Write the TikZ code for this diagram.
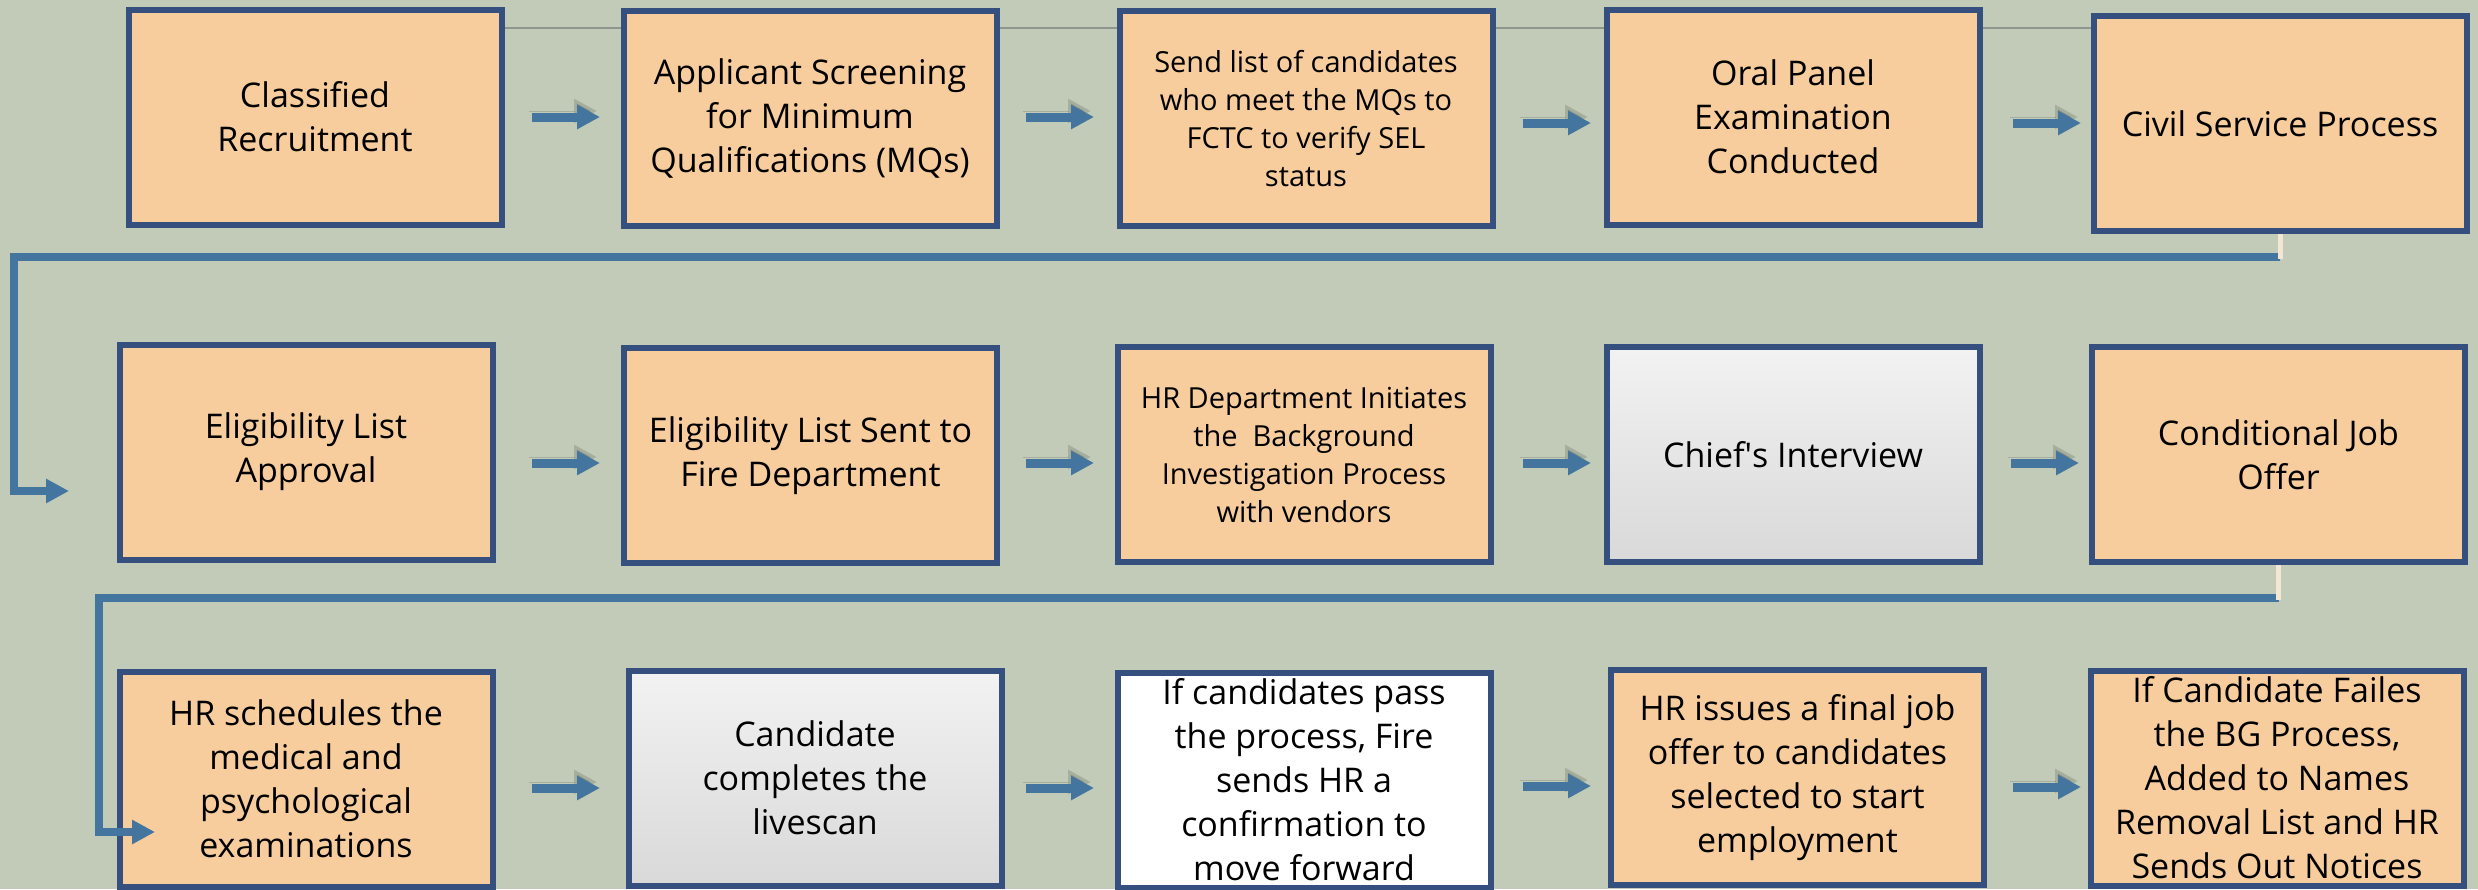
\documentclass[tikz,border=0pt]{standalone}
\usepackage{fontspec}
\setmainfont{Open Sans}
\usetikzlibrary{arrows.meta,backgrounds}
\definecolor{bgc}{HTML}{C2CBB7}
\definecolor{peach}{HTML}{F7CD9E}
\definecolor{boxborder}{HTML}{35507F}
\definecolor{lineblue}{HTML}{44759E}
\definecolor{stubc}{HTML}{F3E6D2}
\definecolor{thingray}{HTML}{8E968E}
\tikzset{
  box/.style={draw=boxborder, line width=3pt, fill=peach, minimum width=186.5pt,
    minimum height=107.5pt, inner xsep=2pt, inner ysep=0pt, align=center,
    font=\fontsize{17}{22}\selectfont, text=black},
  smalltext/.style={font=\fontsize{14.5}{19}\selectfont},
  graybox/.style={box, top color=white!95!black, bottom color=white!85!black},
  whitebox/.style={box, fill=white},
  flowarrow/.style={draw=lineblue, line width=4.5pt,
    -{Triangle[length=11.5pt,width=11.5pt]},
    preaction={draw=black, opacity=0.14, transform canvas={xshift=-1.5pt,yshift=3pt}}},
  conn/.style={draw=lineblue, line width=4pt, line join=miter},
  connarrow/.style={conn, -{Triangle[length=11.5pt,width=11.5pt]}},
  stub/.style={draw=stubc, line width=2.5pt},
  thinline/.style={draw=thingray, line width=0.8pt}
}
\begin{document}
\begin{tikzpicture}[x=0.5pt,y=-0.5pt]
\useasboundingbox (0,0) rectangle (2478,889);
\clip (0,0) rectangle (2478,889);
\begin{scope}[on background layer]
  \fill[bgc] (0,0) rectangle (2478,889);
\end{scope}

% row 1
\node[box] (b1) at (315,117) {Classified\\Recruitment};
\node[box] (b2) at (810,118.5) {Applicant Screening\\for Minimum\\Qualifications (MQs)};
\node[box,smalltext] (b3) at (1306,118.5) {Send list of candidates\\who meet the MQs to\\FCTC to verify SEL\\status};
\node[box] (b4) at (1793,117) {Oral Panel\\Examination\\Conducted};
\node[box] (b5) at (2280,123.5) {Civil Service Process};
% row 2
\node[box] (b6) at (306,452) {Eligibility List\\Approval};
\node[box] (b7) at (810.5,455.5) {Eligibility List Sent to\\Fire Department};
\node[box,smalltext] (b8) at (1304,454.5) {HR Department Initiates\\the\ \ Background\\Investigation Process\\with vendors};
\node[graybox] (b9) at (1793,454.5) {Chief\textquotesingle s Interview};
\node[box] (b10) at (2278.5,454.5) {Conditional Job\\Offer};
% row 3
\node[box] (b11) at (306,779) {HR schedules the\\medical and\\psychological\\examinations};
\node[graybox] (b12) at (815,778) {Candidate\\completes the\\livescan};
\node[whitebox] (b13) at (1304,780) {If candidates pass\\the process, Fire\\sends HR a\\confirmation to\\move forward};
\node[box] (b14) at (1797.5,777.5) {HR issues a final job\\offer to candidates\\selected to start\\employment};
\node[box] (b15) at (2277,778) {If Candidate Failes\\the BG Process,\\Added to Names\\Removal List and HR\\Sends Out Notices};

% thin line behind the top row
\coordinate (g) at (0,28);
\begin{scope}[on background layer]
  \draw[thinline] (b1.east |- g) -- (b5.west |- g);
\end{scope}

% arrows between boxes
\draw[flowarrow] ([xshift=13.75pt]b1.east) -- ++(34pt,0);
\draw[flowarrow] ([xshift=13.25pt,yshift=0.75pt]b2.east) -- ++(34pt,0);
\draw[flowarrow] ([xshift=13.75pt,yshift=-2.25pt]b3.east) -- ++(34pt,0);
\draw[flowarrow] ([xshift=15.25pt,yshift=-3pt]b4.east) -- ++(34pt,0);

\draw[flowarrow] ([xshift=18.25pt,yshift=-5.5pt]b6.east) -- ++(34pt,0);
\draw[flowarrow] ([xshift=13pt,yshift=-3.75pt]b7.east) -- ++(34pt,0);
\draw[flowarrow] ([xshift=14.75pt,yshift=-4.25pt]b8.east) -- ++(34pt,0);
\draw[flowarrow] ([xshift=14.25pt,yshift=-4.25pt]b9.east) -- ++(34pt,0);

\draw[flowarrow] ([xshift=18.25pt,yshift=-4.5pt]b11.east) -- ++(34pt,0);
\draw[flowarrow] ([xshift=10.75pt,yshift=-5pt]b12.east) -- ++(34pt,0);
\draw[flowarrow] ([xshift=14.75pt,yshift=-3pt]b13.east) -- ++(34pt,0);
\draw[flowarrow] ([xshift=13pt,yshift=-4.75pt]b14.east) -- ++(34pt,0);

% return connectors
\coordinate (r1a) at (14,257);
\coordinate (r1b) at (14,491);
\coordinate (r1c) at (69,491);
\draw[connarrow] (b5.south |- r1a) -- (r1a) -- (r1b) -- (r1c);
\draw[stub] (b5.south) -- ([yshift=-1pt]b5.south |- r1a);

\coordinate (r2a) at (99,598);
\coordinate (r2b) at (99,832);
\coordinate (r2c) at (155,832);
\draw[connarrow] (b10.south |- r2a) -- (r2a) -- (r2b) -- (r2c);
\draw[stub] (b10.south) -- ([yshift=-1pt]b10.south |- r2a);
\end{tikzpicture}
\end{document}
